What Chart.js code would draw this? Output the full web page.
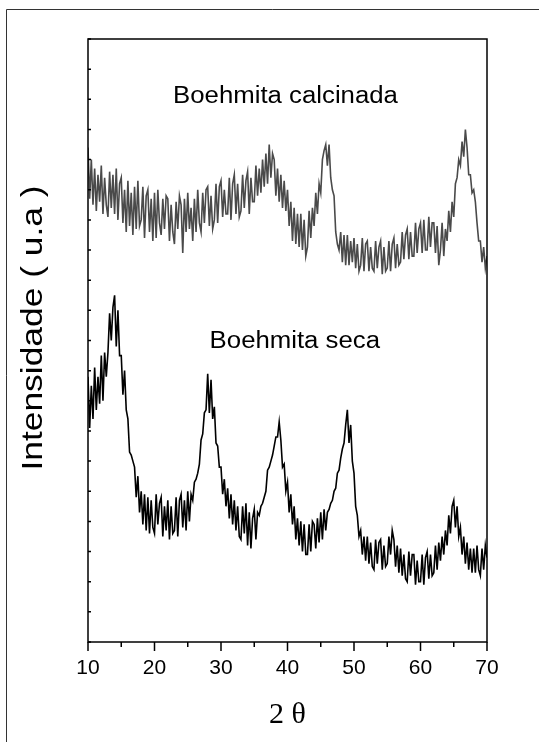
<!DOCTYPE html>
<html>
<head>
<meta charset="utf-8">
<script src="https://cdn.jsdelivr.net/npm/chart.js@4.4.0/dist/chart.umd.min.js"></script>
<style>
  html, body { margin: 0; padding: 0; background: #fff; }
  canvas { display: block; }
</style>
</head>
<body>
<canvas id="xrdChart" width="539" height="742"></canvas>
<script>
// 2 theta sampling: 10 -> 70 deg, 0.25 deg step
const thetaStart = 10;
const thetaStep = 0.25;

// Boehmita calcinada (upper trace, arbitrary units)
const calcinada = [
  82, 73.5, 80, 72.5,   78.5, 71.5, 77.5, 73,   79, 71, 77, 72.5,   70.5, 78, 72, 77.5,   71, 78.5, 70, 76,
  77, 69.5, 75, 68,   76.5, 69, 74.5, 67.5,   75.5, 68.5, 76.5, 69,   70, 75.5, 67, 74,   75, 68, 73.5, 66.5,
  74.5, 67, 75, 69.5,   67.5, 73.5, 68.5, 74,   73.5, 66.5, 72.5, 68,   66, 73, 68.5, 74,   72.5, 64.5, 73.5, 68,
  74.5, 68.5, 72, 66.5,   73.5, 68, 75, 69.5,   68, 74.5, 69.5, 75,   75.5, 69, 74, 68.5,   70, 76, 69.5, 75.5,
  76.5, 70.5, 75, 71,   71, 77, 70, 76,   77.5, 71, 76, 70.5,   71.5, 77.5, 72, 76.5,   78, 71, 77, 73,
  73, 79, 74, 78.5,   74.5, 80, 75.5, 81,   76, 82.5, 77, 81,   80, 74, 78.5, 73,   77.5, 72, 76.5, 71.5,
  75, 69, 73, 66.5,   72, 66, 71, 65.5,   71, 65, 70, 64,   65.5, 71.5, 67, 72,   69, 74.5, 71, 76,
  74.5, 80, 81.5, 82.5,   79, 82.5, 77, 75,   74, 68, 66, 65,   68, 63, 67.5, 62.5,   67.5, 62.5, 66.5, 63,
  67, 62, 66, 61.5,   62.5, 67, 61.5, 66,   66.5, 61.5, 65.5, 62,   61.5, 66.5, 62, 65.5,   66.5, 61, 65.5, 61.5,
  62, 66.5, 61.5, 66,   67, 62, 66, 62.5,   63, 68, 63.5, 67.5,   68.5, 63.5, 68, 64,   64, 69.5, 64.5, 68.5,
  69.5, 64.5, 70, 65,   65, 70.5, 65.5, 69.5,   69.5, 64.5, 69, 62.5,   65, 69.5, 64, 68.5,   66.5, 71.5, 68, 73,
  70.5, 76, 77, 80,   79, 83, 80.5, 85,   82, 77.5, 77.5, 74.5,   75, 73, 69.5, 66.5,   66.5, 63, 65.5, 62,
  64
];

// Boehmita seca (lower trace, arbitrary units)
const seca = [
  44, 35.5, 42.5, 37,   45.5, 38.5, 44, 39.5,   47.5, 40, 48, 44,   48, 54.5, 50, 55.5,   57.5, 49, 55, 47.5,
  47.5, 41, 45, 38.5,   37, 31.5, 31, 30,   29, 24, 27.5, 21.5,   25, 19.5, 24.5, 18.5,   24, 18, 23.5, 19,
  18, 24.5, 19.5, 23,   24, 17.5, 22.5, 18.5,   23.5, 17, 22.5, 18,   18.5, 24, 17.5, 23.5,   24.5, 19, 23.5, 18.5,
  25, 20, 24.5, 23.5,   26.5, 27, 28, 29.5,   33.5, 34.5, 38, 38.5,   44.5, 38, 43.5, 37,   39, 33, 32.5, 29,
  29, 24.5, 27, 22.5,   25.5, 20.5, 24.5, 19.5,   23.5, 18.5, 22.5, 17.5,   17, 22.5, 18, 23,   16, 21.5, 15.5, 20.5,
  22, 17, 21.5, 21,   22.5, 23, 24, 25,   28.5, 29, 30, 31,   32.5, 34, 34, 36.5,   33.5, 29, 29.5, 25,
  26.5, 21.5, 24.5, 19.5,   22.5, 17, 20.5, 16,   20, 15, 19.5, 14.5,   14.5, 19.5, 15, 20,   19.5, 15.5, 20.5, 16.5,
  21.5, 17, 22, 18.5,   21.5, 22, 23, 23.5,   25, 25.5, 28, 28.5,   30.5, 32, 33, 36,   38.5, 33, 36, 30,
  28, 22.5, 21, 17.5,   18.5, 14.5, 17.5, 13.5,   17.5, 13, 16.5, 12.5,   12, 17, 13, 16.5,   17, 12, 16, 12.5,
  13, 17.5, 14.5, 18.5,   17, 12.5, 16, 11.5,   15.5, 11, 14.5, 10.5,   10, 15, 11, 14.5,   14.5, 9.5, 13.5, 10,
  10, 14.5, 9.5, 14,   15, 10.5, 14.5, 11,   11.5, 16, 12, 16.5,   13.5, 17.5, 14.5, 18.5,   16, 21, 18, 22.5,
  23.5, 19, 22.5, 17.5,   19, 14.5, 17.5, 13,   16.5, 12, 15.5, 11.5,   15.5, 11.5, 16, 12,   11, 15.5, 12, 16,
  14
];

const twoTheta = calcinada.map((_, i) => thetaStart + i * thetaStep);

const seriesNames = ['Boehmita calcinada', 'Boehmita seca'];
const xTitle = '2 θ';
const yTitle = 'Intensidade ( u.a )';

const toPoints = arr => arr.map((v, i) => ({ x: twoTheta[i], y: v }));

const framePlugin = {
    id: 'frame',
    afterDraw(chart) {
        const ctx = chart.ctx;
        const a = chart.chartArea;
        const xs = chart.scales.x;
        const ys = chart.scales.y;
        ctx.save();

        // figure border (left + top only, picture is cropped)
        ctx.strokeStyle = '#333';
        ctx.lineWidth = 1;
        ctx.beginPath();
        ctx.moveTo(6.5, 742);
        ctx.lineTo(6.5, 9.5);
        ctx.lineTo(539, 9.5);
        ctx.stroke();

        // plot box
        ctx.strokeStyle = '#000';
        ctx.lineWidth = 1.5;
        ctx.strokeRect(a.left, a.top, a.right - a.left, a.bottom - a.top);

        // x ticks, outward, long on labelled values
        ctx.beginPath();
        xs.ticks.forEach(t => {
            const px = xs.getPixelForValue(t.value);
            const len = t.value % 10 === 0 ? 9 : 5;
            ctx.moveTo(px, a.bottom);
            ctx.lineTo(px, a.bottom + len);
        });
        // y ticks, inward, no labels
        ys.ticks.forEach(t => {
            const py = ys.getPixelForValue(t.value);
            ctx.moveTo(a.left, py);
            ctx.lineTo(a.left + 3, py);
        });
        ctx.stroke();

        ctx.fillStyle = '#000';
        ctx.textAlign = 'center';
        ctx.textBaseline = 'middle';

        // series labels
        const drawStretched = (text, x, y, size, sx) => {
            ctx.save();
            ctx.translate(x, y);
            ctx.scale(sx, 1);
            ctx.font = size + 'px "Liberation Sans", Arial, sans-serif';
            ctx.fillText(text, 0, 0);
            ctx.restore();
        };
        drawStretched(seriesNames[0], xs.getPixelForValue(39.7), ys.getPixelForValue(90.4), 23, 1.12);
        drawStretched(seriesNames[1], xs.getPixelForValue(41.1), ys.getPixelForValue(49.8), 23, 1.12);

        // axis titles
        ctx.font = '30px "Liberation Serif", "Times New Roman", serif';
        ctx.fillText(xTitle, (a.left + a.right) / 2, 715);

        ctx.save();
        ctx.translate(34, 328);
        ctx.rotate(-Math.PI / 2);
        ctx.scale(1.22, 1);
        ctx.font = '29px "Liberation Sans", Arial, sans-serif';
        ctx.fillText(yTitle, 0, 0);
        ctx.restore();

        ctx.restore();
    }
};

const ctx = document.getElementById('xrdChart').getContext('2d');
new Chart(ctx, {
    type: 'line',
    data: {
        datasets: [
            { label: seriesNames[0], data: toPoints(calcinada), borderColor: '#4a4a4a', borderWidth: 1.6, pointRadius: 0, tension: 0 },
            { label: seriesNames[1], data: toPoints(seca), borderColor: '#000000', borderWidth: 1.6, pointRadius: 0, tension: 0 }
        ]
    },
    options: {
        responsive: false,
        animation: false,
        layout: { padding: { top: 39, right: 52, left: 0, bottom: 0 } },
        plugins: {
            legend: { display: false },
            tooltip: { enabled: false }
        },
        scales: {
            x: {
                type: 'linear',
                min: 10,
                max: 70,
                grid: { display: false, drawTicks: false },
                border: { display: false },
                ticks: {
                    stepSize: 5,
                    autoSkip: false,
                    maxRotation: 0,
                    padding: 14,
                    color: '#000',
                    font: { size: 21, family: '"Liberation Sans", Arial, sans-serif' },
                    callback: v => (v % 10 === 0 ? v : '')
                },
                afterFit: s => { s.height = 100; }
            },
            y: {
                min: 0,
                max: 100,
                grid: { display: false, drawTicks: false },
                border: { display: false },
                ticks: { stepSize: 5, display: false },
                afterFit: s => { s.width = 88; }
            }
        }
    },
    plugins: [framePlugin]
});
</script>
</body>
</html>
